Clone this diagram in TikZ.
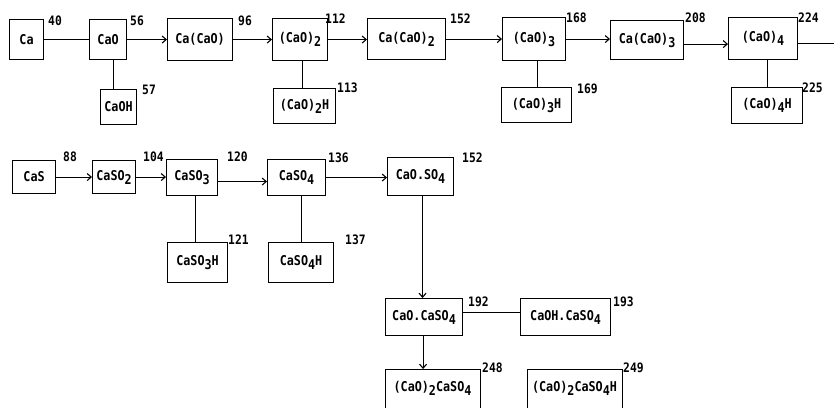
\documentclass[tikz,border=0pt]{standalone}
\usepackage{fontspec}
\newfontfamily\twfont[FakeStretch=0.87]{DejaVu Sans Mono}
\usetikzlibrary{arrows.meta}
\newcommand\lowd[1]{\raisebox{-0.55ex}{#1}}
\tikzset{
  txt/.style={font=\twfont\bfseries\fontsize{13.5}{14}\selectfont},
  box/.style={draw, line width=1.1pt, inner sep=0pt, anchor=north west, txt},
  num/.style={anchor=west, inner sep=0pt, font=\twfont\bfseries\fontsize{13}{14}\selectfont},
  link/.style={line width=1.1pt},
  arr/.style={line width=1.1pt, -{Straight Barb[length=4pt,width=7pt]}}
}
\newcommand\bx[6]{\node[box, minimum width={(#4-#2)*1pt}, minimum height={(#5-#3)*1pt}] (#1) at (#2,#3) {#6};}
\newcommand\nm[4]{\node[num] (#1) at (#2,#3) {#4};}
\begin{document}
\begin{tikzpicture}[x=1pt,y=-1pt]
\useasboundingbox (0,0) rectangle (834,407);
% row 1
\bx{ca}{9}{19}{43}{59}{Ca}
\bx{cao}{89}{19}{126}{59}{CaO}
\bx{cacao}{167}{18}{232}{60}{Ca(CaO)}
\bx{caoii}{272}{18}{327}{60}{(CaO)\lowd{2}}
\bx{cacaoii}{367}{18}{445}{59}{Ca(CaO)\lowd{2}}
\bx{caoiii}{502}{17}{565}{60}{(CaO)\lowd{3}}
\bx{cacaoiii}{610}{20}{683}{59}{Ca(CaO)\lowd{3}}
\bx{caoiv}{728}{17}{797}{59}{(CaO)\lowd{4}}
\bx{caoh}{100}{89}{136}{124}{CaOH}
\bx{caoiih}{273}{88}{335}{123}{(CaO)\lowd{2}H}
\bx{caoiiih}{501}{87}{571}{122}{(CaO)\lowd{3}H}
\bx{caoivh}{731}{87}{802}{123}{(CaO)\lowd{4}H}
% row 2
\bx{cas}{12}{160}{55}{193}{CaS}
\bx{casoii}{92}{160}{135}{193}{CaSO\lowd{2}}
\bx{casoiii}{166}{159}{217}{195}{CaSO\lowd{3}}
\bx{casoiv}{267}{159}{325}{195}{CaSO\lowd{4}}
\bx{caosoiv}{387}{157}{453}{195}{CaO.SO\lowd{4}}
\bx{casoiiih}{167}{242}{227}{282}{CaSO\lowd{3}H}
\bx{casoivh}{268}{242}{333}{282}{CaSO\lowd{4}H}
% row 3/4
\bx{caocasoiv}{385}{298}{462}{335}{CaO.CaSO\lowd{4}}
\bx{caohcasoiv}{520}{298}{610}{335}{CaOH.CaSO\lowd{4}}
\node[box, minimum width=95pt, minimum height=42pt] (caoiicasoiv) at (385,369) {};
\node[box, minimum width=95pt, minimum height=42pt] (caoiicasoivh) at (527,369) {};
\node[txt, anchor=center, inner sep=0pt] (tcaoiicasoiv) at (432.5,388) {(CaO)\lowd{2}CaSO\lowd{4}};
\node[txt, anchor=center, inner sep=0pt] (tcaoiicasoivh) at (574.5,388) {(CaO)\lowd{2}CaSO\lowd{4}H};
% numbers
\nm{n40}{48}{21}{40}
\nm{n56}{130}{21}{56}
\nm{n96}{238}{21}{96}
\nm{n112}{325}{19}{112}
\nm{n152a}{450}{19}{152}
\nm{n168}{566}{18}{168}
\nm{n208}{685}{18}{208}
\nm{n224}{798}{18}{224}
\nm{n57}{142}{90}{57}
\nm{n113}{337}{88}{113}
\nm{n169}{577}{89}{169}
\nm{n225}{802}{88}{225}
\nm{n88}{63}{157}{88}
\nm{n104}{143}{157}{104}
\nm{n120}{227}{157}{120}
\nm{n136}{328}{158}{136}
\nm{n152b}{462}{158}{152}
\nm{n121}{228}{240}{121}
\nm{n137}{345}{240}{137}
\nm{n192}{468}{302}{192}
\nm{n193}{613}{302}{193}
\nm{n248}{482}{368}{248}
\nm{n249}{623}{368}{249}
% connectors row 1
\draw[link] (ca.east) -- (ca.east -| cao.west);
\draw[arr] (cao.east) -- (cao.east -| cacao.west);
\draw[arr] (cacao.east) -- (cacao.east -| caoii.west);
\draw[arr] (caoii.east) -- (caoii.east -| cacaoii.west);
\draw[arr] (cacaoii.east) -- (cacaoii.east -| caoiii.west);
\draw[arr] (caoiii.east) -- (caoiii.east -| cacaoiii.west);
\draw[arr] ([yshift=-4pt]cacaoiii.east) -- ([yshift=-4pt]cacaoiii.east -| caoiv.west);
\coordinate (rimend) at (834,33);
\draw[link] ([yshift=-5pt]caoiv.east) -- ([yshift=-5pt]caoiv.east -| rimend);
\draw[link] ([xshift=5pt]cao.south) -- ([xshift=5pt]cao.south |- caoh.north);
\draw[link] ([xshift=2pt]caoii.south) -- ([xshift=2pt]caoii.south |- caoiih.north);
\draw[link] ([xshift=3pt]caoiii.south) -- ([xshift=3pt]caoiii.south |- caoiiih.north);
\draw[link] ([xshift=4pt]caoiv.south) -- ([xshift=4pt]caoiv.south |- caoivh.north);
% row 2
\draw[arr] (cas.east) -- (cas.east -| casoii.west);
\draw[arr] (casoii.east) -- (casoii.east -| casoiii.west);
\draw[arr] ([yshift=-4pt]casoiii.east) -- ([yshift=-4pt]casoiii.east -| casoiv.west);
\draw[arr] (casoiv.east) -- (casoiv.east -| caosoiv.west);
\draw[link] ([xshift=3pt]casoiii.south) -- ([xshift=3pt]casoiii.south |- casoiiih.north);
\draw[link] ([xshift=5pt]casoiv.south) -- ([xshift=5pt]casoiv.south |- casoivh.north);
\draw[arr] ([xshift=2pt]caosoiv.south) -- ([xshift=2pt]caosoiv.south |- caocasoiv.north);
% row 3
\draw[link] ([yshift=5pt]caocasoiv.east) -- ([yshift=5pt]caocasoiv.east -| caohcasoiv.west);
\draw[arr] ([xshift=-1pt]caocasoiv.south) -- ([xshift=-1pt]caocasoiv.south |- caoiicasoiv.north);
\end{tikzpicture}
\end{document}
